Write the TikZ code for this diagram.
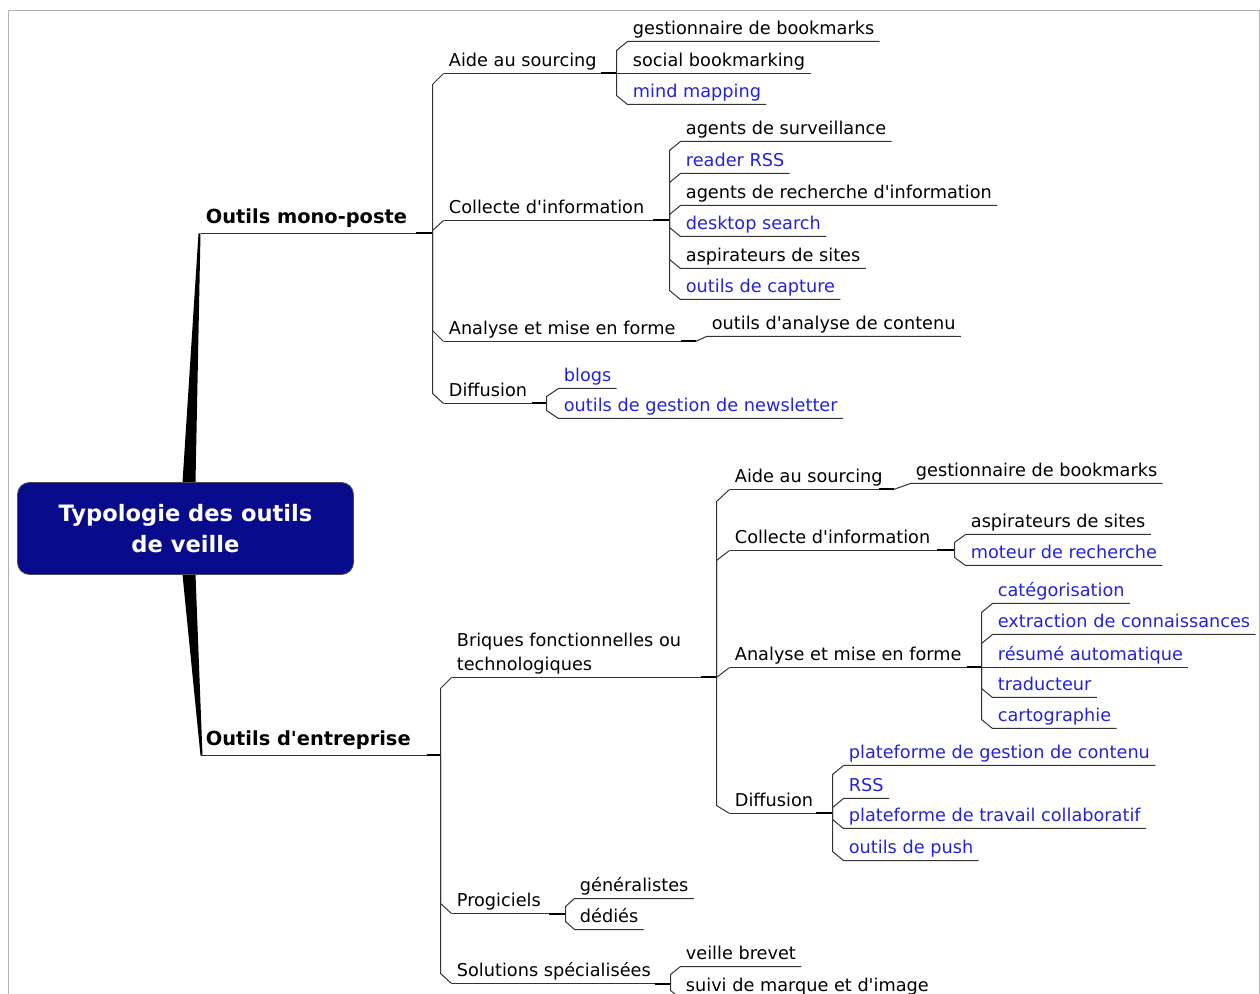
\documentclass[tikz,border=0pt]{standalone}
\usepackage{fontspec}
\setmainfont{DejaVu Sans}[Ligatures=TeXOff]
\usetikzlibrary{calc}
\definecolor{boxblue}{RGB}{8,12,140}
\definecolor{linkblue}{RGB}{35,35,215}

\begin{document}
\begin{tikzpicture}[x=0.5pt,y=-0.5pt,
  edge/.style={draw=black!80, line width=0.5pt},
  stub/.style={draw=black, line width=1pt, yshift=-0.25pt},
  lbl/.style={anchor=south west, inner xsep=2.5pt, inner ysep=3.5pt, text depth=0pt, font=\fontsize{8.85}{10.5}\selectfont},
  txt/.style={lbl, text=black},
  lnk/.style={lbl, text=linkblue},
  main/.style={lbl, inner ysep=4.75pt, font=\bfseries\fontsize{9.7}{12}\selectfont}]

  \useasboundingbox (0,0) rectangle (1260,994);
  \begin{scope}[shift={(0.5,0.5)}] % lignes sur le pixel
  \draw[black!30, line width=0.6pt] (8,994) -- (8,10) -- (1259,10) -- (1259,994); % cadre

  % Noeud central
  \node[main] (mono) at (200,233) {Outils mono-poste};
  \node[main] (entr) at (200,755) {Outils d'entreprise};
  \fill[black] (185-3,482) -- (185+10,482) -- (mono.south west) -- ($(mono.south west)+(-2,0)$) -- cycle;
  \fill[black] (185-3,574) -- (185+10,574) -- ($(entr.south west)+(2,0)$) -- (entr.south west) -- cycle;
  \node[draw=black!70, fill=boxblue, rounded corners=6pt, minimum width=168pt, minimum height=46pt,
        text=white, align=center, font=\bfseries\fontsize{11.3}{15.5}\selectfont] (root) at (185,528) {Typologie des outils\\de veille};

  % Outils mono-poste
  \coordinate (hMono) at (432,233);
  \draw[edge] (mono.south west) -- (hMono);
  \draw[stub] ($(hMono)+(-17,0)$) -- (hMono);

  \node[txt] (aideA) at (443,73) {Aide au sourcing};
  \node[txt] (collA) at (443,220) {Collecte d'information};
  \node[txt] (analA) at (443,341) {Analyse et mise en forme};
  \node[txt] (diffA) at (443,403) {Diffusion};
  \draw[edge] (hMono) -- ($(hMono |- aideA.south west)+(0,11)$) -- (aideA.south west);
  \draw[edge] (hMono) -- ($(hMono |- collA.south west)+(0,10)$) -- (collA.south west);
  \draw[edge] (hMono) -- ($(hMono |- analA.south west)+(0,-11)$) -- (analA.south west);
  \draw[edge] (hMono) -- ($(hMono |- diffA.south west)+(0,-10)$) -- (diffA.south west);

  % Aide au sourcing
  \coordinate (hAideA) at (616,73);
  \draw[edge] (aideA.south west) -- (hAideA);
  \draw[stub] ($(hAideA)+(-16,0)$) -- (hAideA);
  \node[txt] (gestA) at (627,41) {gestionnaire de bookmarks};
  \node[txt] (socA) at (627,73) {social bookmarking};
  \node[lnk] (mindA) at (627,104) {mind mapping};
  \draw[edge] (hAideA) -- ($(hAideA |- gestA.south west)+(0,9)$) -- (gestA.south west) -- (gestA.south east);
  \draw[edge] (hAideA) -- (socA.south east);
  \draw[edge] (hAideA) -- ($(hAideA |- mindA.south west)+(0,-9)$) -- (mindA.south west) -- (mindA.south east);

  % Collecte d'information
  \coordinate (hCollA) at (669,220);
  \draw[edge] (collA.south west) -- (hCollA);
  \draw[stub] ($(hCollA)+(-17,0)$) -- (hCollA);
  \node[txt] (survA) at (680,141) {agents de surveillance};
  \node[lnk] (rssA) at (680,173) {reader RSS};
  \node[txt] (rechA) at (680,205) {agents de recherche d'information};
  \node[lnk] (deskA) at (680,236) {desktop search};
  \node[txt] (aspA) at (680,268) {aspirateurs de sites};
  \node[lnk] (captA) at (680,299) {outils de capture};
  \draw[edge] (hCollA) -- ($(hCollA |- survA.south west)+(0,9)$) -- (survA.south west) -- (survA.south east);
  \draw[edge] (hCollA) -- ($(hCollA |- rssA.south west)+(0,9)$) -- (rssA.south west) -- (rssA.south east);
  \draw[edge] (hCollA) -- ($(hCollA |- rechA.south west)+(0,9)$) -- (rechA.south west) -- (rechA.south east);
  \draw[edge] (hCollA) -- ($(hCollA |- deskA.south west)+(0,-9)$) -- (deskA.south west) -- (deskA.south east);
  \draw[edge] (hCollA) -- ($(hCollA |- aspA.south west)+(0,-9)$) -- (aspA.south west) -- (aspA.south east);
  \draw[edge] (hCollA) -- ($(hCollA |- captA.south west)+(0,-9)$) -- (captA.south west) -- (captA.south east);

  % Analyse et mise en forme
  \coordinate (hAnalA) at (695,341);
  \draw[edge] (analA.south west) -- (hAnalA);
  \draw[stub] ($(hAnalA)+(-15,0)$) -- (hAnalA);
  \node[txt] (contA) at (706,336) {outils d'analyse de contenu};
  \draw[edge] (hAnalA) -- (contA.south west) -- (contA.south east);

  % Diffusion
  \coordinate (hDiffA) at (546,403);
  \draw[edge] (diffA.south west) -- (hDiffA);
  \draw[stub] ($(hDiffA)+(-15,0)$) -- (hDiffA);
  \node[lnk] (blogA) at (558,388) {blogs};
  \node[lnk] (newsA) at (558,418) {outils de gestion de newsletter};
  \draw[edge] (hDiffA) -- ($(hDiffA |- blogA.south west)+(0,8)$) -- (blogA.south west) -- (blogA.south east);
  \draw[edge] (hDiffA) -- ($(hDiffA |- newsA.south west)+(0,-8)$) -- (newsA.south west) -- (newsA.south east);

  % Outils d'entreprise
  \coordinate (hEntr) at (440,755);
  \draw[edge] (entr.south west) -- (hEntr);
  \draw[stub] ($(hEntr)+(-14,0)$) -- (hEntr);

  \node[txt, align=left, font=\fontsize{8.85}{11.7}\selectfont] (briq) at (451,677) {Briques fonctionnelles ou\\technologiques};
  \node[txt] (prog) at (451,913) {Progiciels};
  \node[txt] (solu) at (451,983) {Solutions spécialisées};
  \draw[edge] (hEntr) -- ($(hEntr |- briq.south west)+(0,11)$) -- (briq.south west);
  \draw[edge] (hEntr) -- ($(hEntr |- prog.south west)+(0,-10)$) -- (prog.south west);
  \draw[edge] (hEntr) -- ($(hEntr |- solu.south west)+(0,-10)$) -- (solu.south west);

  % Briques fonctionnelles
  \coordinate (hBriq) at (716,677);
  \draw[edge] (briq.south west) -- (hBriq);
  \draw[stub] ($(hBriq)+(-16,0)$) -- (hBriq);
  \node[txt] (aideB) at (729,489) {Aide au sourcing};
  \node[txt] (collB) at (729,550) {Collecte d'information};
  \node[txt] (analB) at (729,667) {Analyse et mise en forme};
  \node[txt] (diffB) at (729,813) {Diffusion};
  \draw[edge] (hBriq) -- ($(hBriq |- aideB.south west)+(0,12)$) -- (aideB.south west);
  \draw[edge] (hBriq) -- ($(hBriq |- collB.south west)+(0,10)$) -- (collB.south west);
  \draw[edge] (hBriq) -- ($(hBriq |- analB.south west)+(0,10)$) -- (analB.south west);
  \draw[edge] (hBriq) -- ($(hBriq |- diffB.south west)+(0,-8)$) -- (diffB.south west);

  \coordinate (hAideB) at (893,489);
  \draw[edge] (aideB.south west) -- (hAideB);
  \draw[stub] ($(hAideB)+(-15,0)$) -- (hAideB);
  \node[txt] (gestB) at (910,483) {gestionnaire de bookmarks};
  \draw[edge] (hAideB) -- (gestB.south west) -- (gestB.south east);

  \coordinate (hCollB) at (954,550);
  \draw[edge] (collB.south west) -- (hCollB);
  \draw[stub] ($(hCollB)+(-18,0)$) -- (hCollB);
  \node[txt] (aspB) at (965,534) {aspirateurs de sites};
  \node[lnk] (motB) at (965,565) {moteur de recherche};
  \draw[edge] (hCollB) -- ($(hCollB |- aspB.south west)+(0,8)$) -- (aspB.south west) -- (aspB.south east);
  \draw[edge] (hCollB) -- ($(hCollB |- motB.south west)+(0,-8)$) -- (motB.south west) -- (motB.south east);

  \coordinate (hAnalB) at (981,667);
  \draw[edge] (analB.south west) -- (hAnalB);
  \draw[stub] ($(hAnalB)+(-15,0)$) -- (hAnalB);
  \node[lnk] (catB) at (992,603) {catégorisation};
  \node[lnk] (extrB) at (992,634) {extraction de connaissances};
  \node[lnk] (resB) at (992,667) {résumé automatique};
  \node[lnk] (tradB) at (992,697) {traducteur};
  \node[lnk] (cartB) at (992,728) {cartographie};
  \draw[edge] (hAnalB) -- ($(hAnalB |- catB.south west)+(0,9)$) -- (catB.south west) -- (catB.south east);
  \draw[edge] (hAnalB) -- ($(hAnalB |- extrB.south west)+(0,9)$) -- (extrB.south west) -- (extrB.south east);
  \draw[edge] (hAnalB) -- (resB.south east);
  \draw[edge] (hAnalB) -- ($(hAnalB |- tradB.south west)+(0,-9)$) -- (tradB.south west) -- (tradB.south east);
  \draw[edge] (hAnalB) -- ($(hAnalB |- cartB.south west)+(0,-9)$) -- (cartB.south west) -- (cartB.south east);

  \coordinate (hDiffB) at (832,813);
  \draw[edge] (diffB.south west) -- (hDiffB);
  \draw[stub] ($(hDiffB)+(-17,0)$) -- (hDiffB);
  \node[lnk] (pgcB) at (843,765) {plateforme de gestion de contenu};
  \node[lnk] (rssB) at (843,798) {RSS};
  \node[lnk] (ptcB) at (843,828) {plateforme de travail collaboratif};
  \node[lnk] (pushB) at (843,860) {outils de push};
  \draw[edge] (hDiffB) -- ($(hDiffB |- pgcB.south west)+(0,9)$) -- (pgcB.south west) -- (pgcB.south east);
  \draw[edge] (hDiffB) -- ($(hDiffB |- rssB.south west)+(0,9)$) -- (rssB.south west) -- (rssB.south east);
  \draw[edge] (hDiffB) -- ($(hDiffB |- ptcB.south west)+(0,-9)$) -- (ptcB.south west) -- (ptcB.south east);
  \draw[edge] (hDiffB) -- ($(hDiffB |- pushB.south west)+(0,-9)$) -- (pushB.south west) -- (pushB.south east);

  % Progiciels
  \coordinate (hProg) at (565,913);
  \draw[edge] (prog.south west) -- (hProg);
  \draw[stub] ($(hProg)+(-17,0)$) -- (hProg);
  \node[txt] (genP) at (574,898) {généralistes};
  \node[txt] (dedP) at (574,929) {dédiés};
  \draw[edge] (hProg) -- ($(hProg |- genP.south west)+(0,8)$) -- (genP.south west) -- (genP.south east);
  \draw[edge] (hProg) -- ($(hProg |- dedP.south west)+(0,-8)$) -- (dedP.south west) -- (dedP.south east);

  % Solutions spécialisées
  \coordinate (hSolu) at (670,983);
  \draw[edge] (solu.south west) -- (hSolu);
  \draw[stub] ($(hSolu)+(-16,0)$) -- (hSolu);
  \node[txt] (brevS) at (680,966) {veille brevet};
  \node[txt] (marqS) at (680,998) {suivi de marque et d'image};
  \draw[edge] (hSolu) -- ($(hSolu |- brevS.south west)+(0,8)$) -- (brevS.south west) -- (brevS.south east);
  \draw[edge] (hSolu) -- ($(hSolu |- marqS.south west)+(0,-8)$) -- (marqS.south west) -- (marqS.south east);
  \end{scope}

\end{tikzpicture}
\end{document}
